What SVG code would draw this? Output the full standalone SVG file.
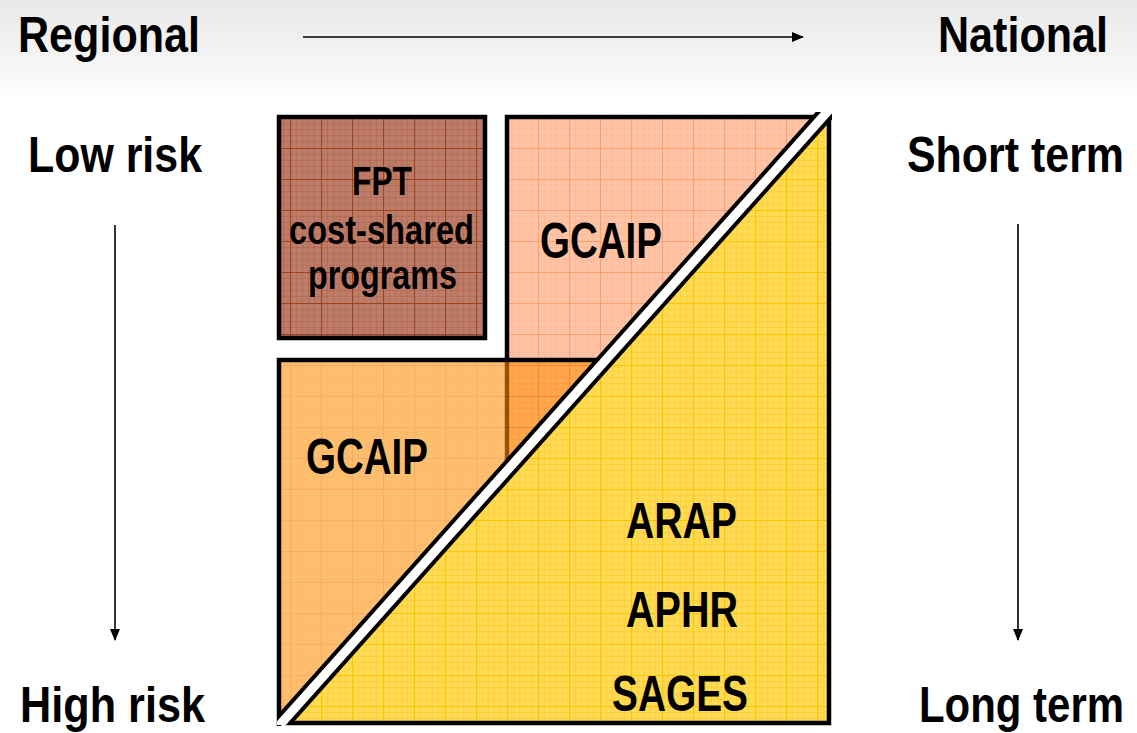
<svg xmlns="http://www.w3.org/2000/svg" width="1137" height="733" viewBox="0 0 1137 733">
  <style>
    .lbl { font-family: "Liberation Sans Narrow", "Liberation Sans", Arial, sans-serif; font-weight: bold; fill: #000; }
    .big { font-size: 50px; }
    .rt { font-size: 46px; }
    .mid { font-size: 40px; }
    .end { text-anchor: end; }
    .border { fill: none; stroke: #000; stroke-width: 4.5; stroke-linejoin: miter; }
    .axis { stroke: #000; stroke-width: 1.6; fill: none; }
  </style>
  <defs>
    <linearGradient id="bgTop" x1="0" y1="0" x2="0" y2="1">
      <stop offset="0" stop-color="#e9e9e9"/>
      <stop offset="0.55" stop-color="#f3f3f3"/>
      <stop offset="1" stop-color="#ffffff"/>
    </linearGradient>
    <marker id="arrow" markerWidth="12" markerHeight="10" refX="11" refY="5" orient="auto" markerUnits="userSpaceOnUse">
      <path d="M0,0 L12,5 L0,10 Z" fill="#000"/>
    </marker>
    <pattern id="pBrown" x="11" y="24" width="31" height="31" patternUnits="userSpaceOnUse">
      <rect width="31" height="31" fill="#bc7c69"/>
      <path d="M0 6.5H31M0 12.5H31M0 18.5H31M0 24.5H31M6.5 0V31M12.5 0V31M18.5 0V31M24.5 0V31" stroke="#a6583a" stroke-width="1" stroke-opacity="0.35"/>
      <path d="M0 0.5H31M0.5 0V31" stroke="#9c4420" stroke-width="1.2"/>
    </pattern>
    <pattern id="pPink" x="11" y="24" width="31" height="31" patternUnits="userSpaceOnUse">
      <rect width="31" height="31" fill="#ffc4a6"/>
      <path d="M0 6.5H31M0 12.5H31M0 18.5H31M0 24.5H31M6.5 0V31M12.5 0V31M18.5 0V31M24.5 0V31" stroke="#ffa882" stroke-width="1" stroke-opacity="0.35"/>
      <path d="M0 0.5H31M0.5 0V31" stroke="#ff9d70" stroke-width="1.2"/>
    </pattern>
    <pattern id="pOrange" x="11" y="24" width="31" height="31" patternUnits="userSpaceOnUse">
      <rect width="31" height="31" fill="#ff930d"/>
      <path d="M0 6.5H31M0 12.5H31M0 18.5H31M0 24.5H31M6.5 0V31M12.5 0V31M18.5 0V31M24.5 0V31" stroke="#f07a00" stroke-width="1" stroke-opacity="0.3"/>
      <path d="M0 0.5H31M0.5 0V31" stroke="#f07800" stroke-width="1.2"/>
    </pattern>
    <pattern id="pYellow" x="11" y="24" width="31" height="31" patternUnits="userSpaceOnUse">
      <rect width="31" height="31" fill="#ffda55"/>
      <path d="M0 6.5H31M0 12.5H31M0 18.5H31M0 24.5H31M6.5 0V31M12.5 0V31M18.5 0V31M24.5 0V31" stroke="#ffc61a" stroke-width="1" stroke-opacity="0.4"/>
      <path d="M0 0.5H31M0.5 0V31" stroke="#ffc400" stroke-width="1.2"/>
    </pattern>
    <clipPath id="bandClip">
      <rect x="277" y="112" width="555" height="613"/>
    </clipPath>
  </defs>

  <!-- background -->
  <rect x="0" y="0" width="1137" height="733" fill="#ffffff"/>
  <rect x="0" y="0" width="1137" height="100" fill="url(#bgTop)"/>

  <!-- axis labels -->
  <g id="axis-labels">
    <text class="lbl big" x="18" y="52" textLength="182" lengthAdjust="spacingAndGlyphs">Regional</text>
    <text class="lbl big end" x="1108" y="52" textLength="170" lengthAdjust="spacingAndGlyphs">National</text>
    <text class="lbl big" x="28" y="172" textLength="174" lengthAdjust="spacingAndGlyphs">Low risk</text>
    <text class="lbl rt end" x="1124" y="172" textLength="217" lengthAdjust="spacingAndGlyphs" transform="translate(0,172) scale(1,1.085) translate(0,-172)">Short term</text>
    <text class="lbl big" x="20" y="722" textLength="185" lengthAdjust="spacingAndGlyphs">High risk</text>
    <text class="lbl rt end" x="1124" y="722" textLength="205" lengthAdjust="spacingAndGlyphs" transform="translate(0,722) scale(1,1.085) translate(0,-722)">Long term</text>
  </g>

  <!-- connectors (axis arrows) -->
  <g id="connectors">
    <line class="axis" x1="303" y1="37" x2="803" y2="37" marker-end="url(#arrow)"/>
    <line class="axis" x1="115" y1="225" x2="115" y2="640" marker-end="url(#arrow)"/>
    <line class="axis" x1="1018" y1="224" x2="1018" y2="640" marker-end="url(#arrow)"/>
  </g>

  <!-- GCAIP (pink, top right) -->
  <g id="node-gcaip-top">
    <polygon points="507,117 823,117 507,471" fill="url(#pPink)"/>
    <polyline class="border" points="507,471 507,117 823,117"/>
    <text class="lbl big" x="540" y="258" textLength="122" lengthAdjust="spacingAndGlyphs">GCAIP</text>
  </g>

  <!-- FPT cost-shared programs (brown) -->
  <g id="node-fpt">
    <rect x="279" y="117" width="206" height="221" fill="url(#pBrown)"/>
    <rect class="border" x="279" y="117" width="206" height="221"/>
    <text class="lbl mid" x="382" y="195" text-anchor="middle" textLength="60" lengthAdjust="spacingAndGlyphs">FPT</text>
    <text class="lbl mid" x="289" y="244" textLength="185" lengthAdjust="spacingAndGlyphs">cost-shared</text>
    <text class="lbl mid" x="308" y="289" textLength="149" lengthAdjust="spacingAndGlyphs">programs</text>
  </g>

  <!-- GCAIP (orange, bottom left, translucent) -->
  <g id="node-gcaip-bottom">
    <polygon points="279,360 606,360 279,726" fill="url(#pOrange)" opacity="0.6"/>
    <polyline class="border" points="279,726 279,360 606,360"/>
    <text class="lbl big" x="306" y="474" textLength="122" lengthAdjust="spacingAndGlyphs">GCAIP</text>
  </g>

  <!-- ARAP / APHR / SAGES (yellow) -->
  <g id="node-yellow">
    <polygon points="829,112 829,723 281,723" fill="url(#pYellow)"/>
    <polyline class="border" points="829,112 829,723 285,723"/>
    <text class="lbl big" x="626" y="538" textLength="111" lengthAdjust="spacingAndGlyphs">ARAP</text>
    <text class="lbl big" x="626" y="627" textLength="112" lengthAdjust="spacingAndGlyphs">APHR</text>
    <text class="lbl big" x="612" y="711" textLength="136" lengthAdjust="spacingAndGlyphs">SAGES</text>
  </g>

  <!-- diagonal separator band -->
  <g id="diagonal-band" clip-path="url(#bandClip)">
    <line x1="837.8" y1="100" x2="266.4" y2="740" stroke="#000" stroke-width="17"/>
    <line x1="837.8" y1="100" x2="266.4" y2="740" stroke="#fff" stroke-width="9"/>
  </g>
</svg>
